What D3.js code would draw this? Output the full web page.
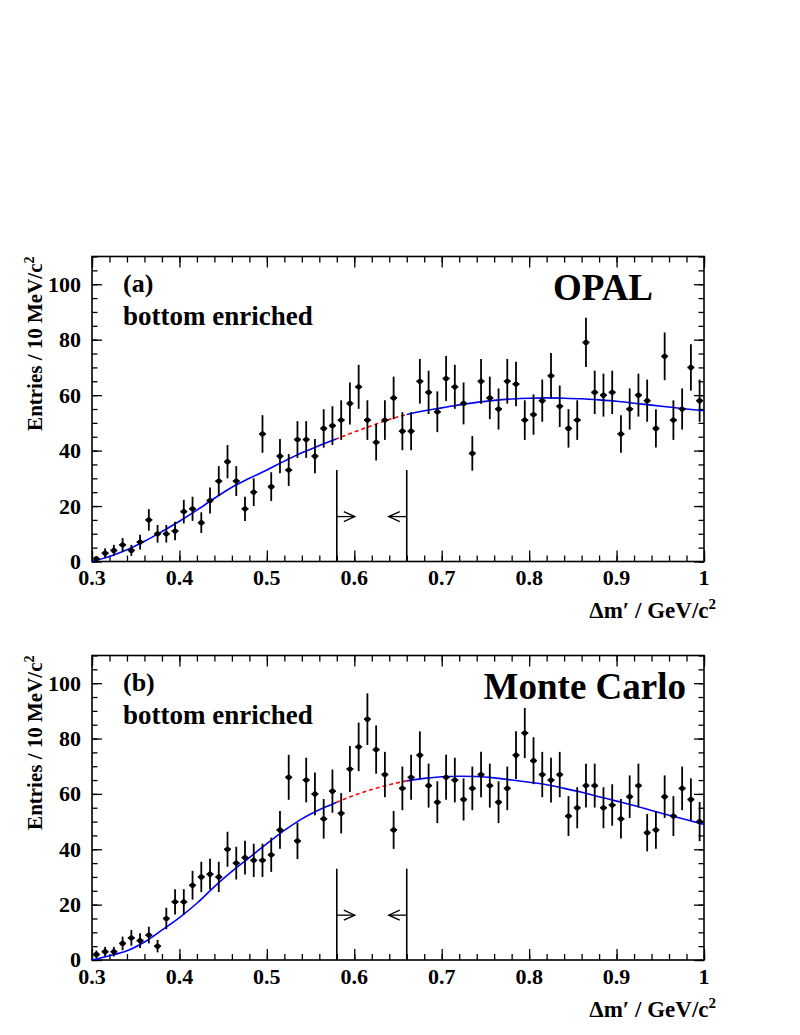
<!DOCTYPE html>
<html>
<head>
<meta charset="utf-8">
<script src="https://cdn.jsdelivr.net/npm/d3@7"></script>
<style>
  body { margin: 0; background: #fff; }
</style>
</head>
<body>
<div id="chart"></div>
<script>
/*************************/
/* CONSTANTS AND GLOBALS */
/*************************/
const width = 800;
const height = 1035;
const serif = "'Liberation Serif', 'DejaVu Serif', 'Times New Roman', serif";

// histogram binning: 10 MeV bins from 0.3 to 1.0 GeV
const xLow = 0.3, xHigh = 1.0, binWidth = 0.01;

// entries per bin
const entriesOpal = [1, 3, 4, 6, 4, 7, 15, 10, 10, 11,
  18, 19, 14, 22, 29, 36, 29, 19, 25, 46,
  27, 38, 33, 44, 44, 38, 48, 49, 51, 57,
  63, 51, 43, 51, 59, 47, 47, 65, 61, 54,
  66, 63, 57, 39, 65, 59, 55, 65, 64, 51,
  53, 58, 67, 56, 48, 51, 79, 61, 60, 61,
  46, 55, 60, 58, 48, 74, 51, 55, 70, 58];

const entriesMC = [2, 3, 3, 6, 8, 7, 9, 5, 15, 21,
  21, 27, 30, 31, 30, 40, 35, 37, 36, 36,
  38, 47, 66, 43, 65, 60, 51, 61, 53, 69,
  77, 87, 76, 67, 47, 62, 66, 74, 63, 57,
  66, 65, 58, 62, 67, 63, 57, 62, 74, 82,
  72, 67, 65, 67, 52, 55, 63, 63, 55, 56,
  51, 59, 63, 46, 47, 59, 52, 62, 58, 50];

// fitted background curve
const fitX = [0.30, 0.32, 0.34, 0.36, 0.38, 0.40, 0.42, 0.44, 0.46, 0.48,
  0.50, 0.52, 0.54, 0.56, 0.58, 0.60, 0.62, 0.64, 0.66, 0.68,
  0.70, 0.72, 0.74, 0.76, 0.78, 0.80, 0.82, 0.84, 0.86, 0.88,
  0.90, 0.92, 0.94, 0.96, 0.98, 1.00];
const fitOpal = [0.0, 1.8, 4.2, 7.3, 10.8, 14.5, 18.5, 22.8, 26.8, 30.0,
  33.0, 36.2, 39.2, 41.8, 44.3, 46.7, 49.0, 51.2, 53.0, 54.4,
  55.4, 56.5, 57.4, 58.1, 58.6, 58.9, 59.0, 58.9, 58.7, 58.3,
  57.8, 57.1, 56.4, 55.7, 55.0, 54.4];
const fitMC = [0.0, 1.5, 3.3, 6.5, 10.8, 15.3, 20.5, 26.5, 32.0, 37.0,
  42.0, 46.8, 51.0, 54.3, 57.0, 59.5, 61.6, 63.3, 64.7, 65.6,
  66.2, 66.4, 66.3, 65.8, 65.0, 64.2, 63.3, 62.0, 60.6, 59.0,
  57.4, 55.8, 54.0, 52.3, 50.7, 49.0];

// signal window (excluded from the fit)
const cutLow = 0.58, cutHigh = 0.66;
const cutLineTop = 33, arrowLevel = 16.2;

const xMajorTicks = [0.3, 0.4, 0.5, 0.6, 0.7, 0.8, 0.9, 1.0];
const xTickLabels = ["0.3", "0.4", "0.5", "0.6", "0.7", "0.8", "0.9", "1"];
const yMajorTicks = [0, 20, 40, 60, 80, 100];
const yTickLabels = ["0", "20", "40", "60", "80", "100"];
const yMax = 110;

const panels = [
  { label: "(a)", note: "bottom enriched", tag: "OPAL", entries: entriesOpal, fit: fitOpal,
    top: 256.5, bottom: 561.5, tagX: 553, tagAnchor: "start" },
  { label: "(b)", note: "bottom enriched", tag: "Monte Carlo", entries: entriesMC, fit: fitMC,
    top: 655.5, bottom: 960, tagX: 686, tagAnchor: "end" }
];

const frameLeft = 92, frameRight = 704;

const svg = d3.select("#chart")
  .append("svg")
  .attr("width", width)
  .attr("height", height)
  .attr("font-family", serif)
  .attr("font-weight", "bold");

const xScale = d3.scaleLinear()
  .domain([xLow, xHigh])
  .range([frameLeft, frameRight]);

const xMinorTicks = d3.range(0, 36).map(i => xLow + i * 0.02);
const yMinorTicks = d3.range(0, 23).map(i => i * 5);

panels.forEach((p, idx) => drawPanel(p, idx));

/*********************************************************************/
/***************************** ONE PANEL *****************************/
/*********************************************************************/
function drawPanel(p, idx) {
  const g = svg.append("g");

  const yScale = d3.scaleLinear()
    .domain([0, yMax])
    .range([p.bottom, p.top]);

  const label = sel => sel
    .attr("font-family", serif)
    .attr("font-weight", "bold")
    .attr("fill", "#000");

  /* ticks, all pointing into the frame */
  const tickStyle = sel => {
    sel.select(".domain").remove();
    sel.selectAll("line").attr("stroke", "#000").attr("stroke-width", 1.3);
  };
  g.append("g").attr("transform", `translate(0,${p.bottom})`)
    .call(d3.axisBottom(xScale).tickValues(xMinorTicks).tickSize(-6).tickFormat(""))
    .call(tickStyle);
  g.append("g").attr("transform", `translate(0,${p.bottom})`)
    .call(d3.axisBottom(xScale).tickValues(xMajorTicks).tickSize(-11).tickFormat(""))
    .call(tickStyle);
  g.append("g").attr("transform", `translate(0,${p.top})`)
    .call(d3.axisTop(xScale).tickValues(xMinorTicks).tickSize(-6).tickFormat(""))
    .call(tickStyle);
  g.append("g").attr("transform", `translate(0,${p.top})`)
    .call(d3.axisTop(xScale).tickValues(xMajorTicks).tickSize(-11).tickFormat(""))
    .call(tickStyle);
  g.append("g").attr("transform", `translate(${frameLeft},0)`)
    .call(d3.axisLeft(yScale).tickValues(yMinorTicks).tickSize(-5.5).tickFormat(""))
    .call(tickStyle);
  g.append("g").attr("transform", `translate(${frameLeft},0)`)
    .call(d3.axisLeft(yScale).tickValues(yMajorTicks).tickSize(-10).tickFormat(""))
    .call(tickStyle);
  g.append("g").attr("transform", `translate(${frameRight},0)`)
    .call(d3.axisRight(yScale).tickValues(yMinorTicks).tickSize(-5.5).tickFormat(""))
    .call(tickStyle);
  g.append("g").attr("transform", `translate(${frameRight},0)`)
    .call(d3.axisRight(yScale).tickValues(yMajorTicks).tickSize(-10).tickFormat(""))
    .call(tickStyle);

  /* frame */
  g.append("rect")
    .attr("x", frameLeft).attr("y", p.top)
    .attr("width", frameRight - frameLeft).attr("height", p.bottom - p.top)
    .attr("fill", "none").attr("stroke", "#000").attr("stroke-width", 1.6);

  /* tick labels */
  g.selectAll("text.xlab")
    .data(xMajorTicks)
    .join("text")
    .attr("class", "xlab")
    .call(label)
    .attr("x", d => xScale(d))
    .attr("y", p.bottom + 23.5)
    .attr("text-anchor", "middle")
    .attr("font-size", 22)
    .text((d, i) => xTickLabels[i]);

  g.selectAll("text.ylab")
    .data(yMajorTicks)
    .join("text")
    .attr("class", "ylab")
    .call(label)
    .attr("x", 81)
    .attr("y", d => yScale(d))
    .attr("dy", "0.34em")
    .attr("text-anchor", "end")
    .attr("font-size", 22)
    .text((d, i) => yTickLabels[i]);

  /* axis titles */
  const yTitle = g.append("text")
    .call(label)
    .attr("transform", `translate(41.5,${p.top}) rotate(-90)`)
    .attr("text-anchor", "end")
    .attr("font-size", 21);
  yTitle.append("tspan").text("Entries / 10 MeV/c");
  yTitle.append("tspan").attr("dy", -8).attr("font-size", 14).text("2");

  const xTitle = g.append("text")
    .call(label)
    .attr("x", 716)
    .attr("y", p.bottom + 56.5)
    .attr("text-anchor", "end")
    .attr("font-size", 23);
  xTitle.append("tspan").text("\u0394m\u2032 / GeV/c");
  xTitle.append("tspan").attr("dy", -9).attr("font-size", 15).text("2");

  /* labels inside the frame */
  g.append("text").call(label).attr("x", 123).attr("y", p.top + 35.5)
    .attr("font-size", 26).text(p.label);
  g.append("text").call(label).attr("x", 123).attr("y", p.top + 68.5)
    .attr("font-size", 27).text(p.note);
  g.append("text").call(label).attr("x", p.tagX).attr("y", p.top + 43.5)
    .attr("text-anchor", p.tagAnchor)
    .attr("font-size", 37).text(p.tag);

  /* fit curve: solid blue outside the window, dashed red inside */
  const fitPoints = fitX.map((x, i) => [x, p.fit[i]]);
  const line = d3.line()
    .x(d => xScale(d[0]))
    .y(d => yScale(d[1]))
    .curve(d3.curveMonotoneX);

  const clipOut = `clipOut${idx}`, clipIn = `clipIn${idx}`;
  const defs = g.append("defs");
  const co = defs.append("clipPath").attr("id", clipOut);
  co.append("rect").attr("x", frameLeft).attr("y", p.top)
    .attr("width", xScale(cutLow) - frameLeft).attr("height", p.bottom - p.top);
  co.append("rect").attr("x", xScale(cutHigh)).attr("y", p.top)
    .attr("width", frameRight - xScale(cutHigh)).attr("height", p.bottom - p.top);
  defs.append("clipPath").attr("id", clipIn)
    .append("rect").attr("x", xScale(cutLow)).attr("y", p.top)
    .attr("width", xScale(cutHigh) - xScale(cutLow)).attr("height", p.bottom - p.top);

  g.append("path")
    .datum(fitPoints)
    .attr("d", line)
    .attr("fill", "none")
    .attr("stroke", "#0000ff")
    .attr("stroke-width", 1.6)
    .attr("clip-path", `url(#${clipOut})`);
  g.append("path")
    .datum(fitPoints)
    .attr("d", line)
    .attr("fill", "none")
    .attr("stroke", "#ff0000")
    .attr("stroke-width", 1.6)
    .attr("stroke-dasharray", "4,3")
    .attr("clip-path", `url(#${clipIn})`);

  /* signal window lines + arrows */
  [cutLow, cutHigh].forEach((c, k) => {
    const cx = xScale(c);
    const dir = k === 0 ? 1 : -1;
    const ay = yScale(arrowLevel);
    const tip = cx + dir * 18;
    g.append("line")
      .attr("x1", cx).attr("x2", cx)
      .attr("y1", yScale(0)).attr("y2", yScale(cutLineTop))
      .attr("stroke", "#000").attr("stroke-width", 1.6);
    g.append("line")
      .attr("x1", cx).attr("x2", tip)
      .attr("y1", ay).attr("y2", ay)
      .attr("stroke", "#000").attr("stroke-width", 1.3);
    g.append("path")
      .attr("d", `M${tip - dir * 11},${ay - 5}L${tip},${ay}L${tip - dir * 11},${ay + 5}`)
      .attr("fill", "none").attr("stroke", "#000").attr("stroke-width", 1.3);
  });

  /* data points with sqrt(N) errors */
  const bins = p.entries.map((n, i) => ({ x: xLow + (i + 0.5) * binWidth, n: n, e: Math.sqrt(n) }));
  const pts = g.append("g");
  pts.selectAll("line.ey")
    .data(bins)
    .join("line")
    .attr("class", "ey")
    .attr("x1", d => xScale(d.x)).attr("x2", d => xScale(d.x))
    .attr("y1", d => yScale(Math.max(0, d.n - d.e)))
    .attr("y2", d => yScale(d.n + d.e))
    .attr("stroke", "#000").attr("stroke-width", 1.8);
  pts.selectAll("line.ex")
    .data(bins)
    .join("line")
    .attr("class", "ex")
    .attr("x1", d => xScale(d.x) - 3.5).attr("x2", d => xScale(d.x) + 3.5)
    .attr("y1", d => yScale(d.n)).attr("y2", d => yScale(d.n))
    .attr("stroke", "#000").attr("stroke-width", 1.8);
  pts.selectAll("circle")
    .data(bins)
    .join("circle")
    .attr("cx", d => xScale(d.x))
    .attr("cy", d => yScale(d.n))
    .attr("r", 2.6)
    .attr("fill", "#000");
}
</script>
</body>
</html>
